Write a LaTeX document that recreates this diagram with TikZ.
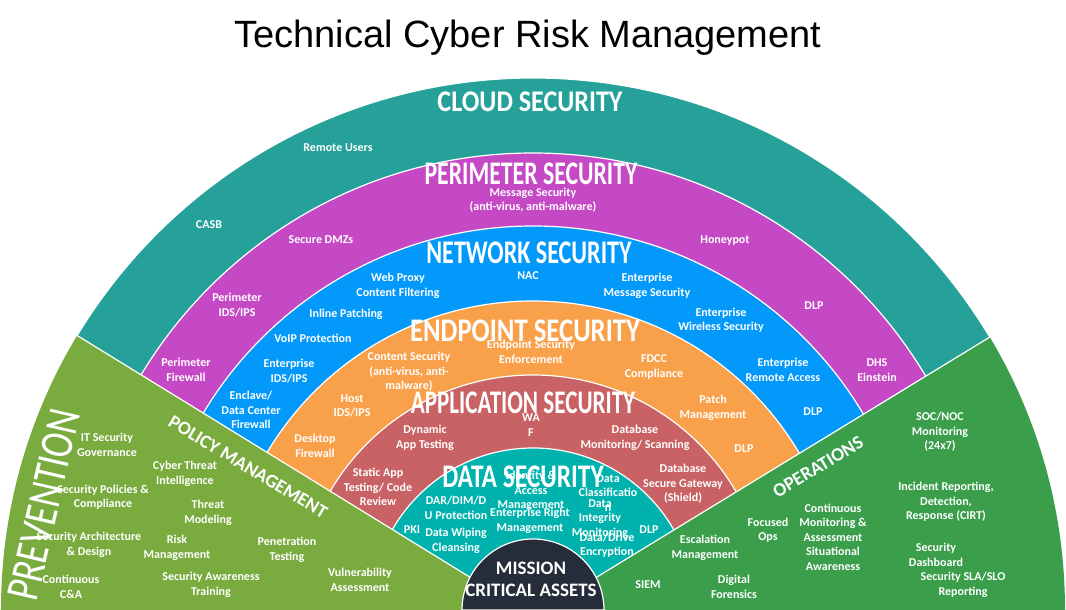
\documentclass[tikz,border=0pt]{standalone}
\usepackage{fontspec}
\usepackage{graphicx}
\usepackage{tikz}
\setmainfont{Carlito}
\newfontfamily\titlefont{Liberation Sans}
\definecolor{cloudc}{HTML}{26A199}
\definecolor{perimc}{HTML}{C549C4}
\definecolor{netc}{HTML}{0399FA}
\definecolor{endc}{HTML}{F8A04A}
\definecolor{appc}{HTML}{C96264}
\definecolor{datac}{HTML}{00B2AD}
\definecolor{missc}{HTML}{252C3A}
\definecolor{prevc}{HTML}{7AAB3F}
\definecolor{opsc}{HTML}{3A9E4B}

\begin{document}
\begin{tikzpicture}[x=1pt, y=1pt,
		ring/.style={draw=white, line width=1.2pt},
		item node/.style={text=white, align=center, inner sep=0pt, font=\bfseries\fontsize{12}{14.5}\selectfont},
		head node/.style={text=white, inner sep=0pt, font=\bfseries\fontsize{33}{33}\selectfont},
		side node/.style={text=white, inner sep=0pt, font=\bfseries\fontsize{19}{19}\selectfont}]
	\useasboundingbox (-533,0) rectangle (533,610);
	
	% rings
	\fill[cloudc, ring] (-532,0) arc (180:0:532) -- cycle;
	\fill[perimc, ring] (-457,0) arc (180:0:457) -- cycle;
	\fill[netc, ring] (-384,0) arc (180:0:384) -- cycle;
	\fill[endc, ring] (-309,0) arc (180:0:309) -- cycle;
	\fill[appc, ring] (-235,0) arc (180:0:235) -- cycle;
	\fill[datac, ring] (-162,0) arc (180:0:162) -- cycle;
	
	% green sectors
	\begin{scope}
		\clip (-532,0) arc (180:0:532) -- cycle;
		\fill[prevc] (0,-6) -- (148.8:720) -- (-720,430) -- (-720,-6) -- cycle;
		\fill[opsc] (0,-6) -- (31:720) -- (720,430) -- (720,-6) -- cycle;
		\draw[white, line width=1.2pt] (0,-6) -- (148.8:720);
		\draw[white, line width=1.2pt] (0,-6) -- (31:720);
	\end{scope}
	\fill[missc, ring] (-71,0) arc (180:0:71) -- cycle;
	
	\node[text=black, font=\titlefont\fontsize{38}{38}\selectfont] (title) at (-5,572) {Technical Cyber Risk Management};
	
	% cloud security
	\node[head node, font=\bfseries\fontsize{30}{30}\selectfont] (cloud) at (-3,508) {\scalebox{0.87}[1]{CLOUD SECURITY}};
	\node[item node] (c1) at (-195,462) {Remote Users};
	\node[item node] (c2) at (-324,385) {CASB};
	
	% perimeter security
	\node[head node] (perim) at (-2,436) {\scalebox{0.72}[1]{PERIMETER SECURITY}};
	\node[item node] (p1) at (0,410) {Message Security\\(anti-virus, anti-malware)};
	\node[item node] (p2) at (-212,370) {Secure DMZs};
	\node[item node] (p3) at (192,369) {Honeypot};
	\node[item node] (p4) at (-296,305) {Perimeter\\IDS/IPS};
	\node[item node] (p5) at (281,304) {DLP};
	\node[item node] (p6) at (-347,240) {Perimeter\\Firewall};
	\node[item node] (p7) at (344,240) {DHS\\Einstein};
	
	% network security
	\node[head node] (net) at (-4,357) {\scalebox{0.73}[1]{NETWORK SECURITY}};
	\node[item node] (n1) at (-5,334) {NAC};
	\node[item node] (n2) at (-135,324) {Web Proxy\\Content Filtering};
	\node[item node] (n3) at (114,324) {Enterprise\\Message Security};
	\node[item node] (n4) at (-187,296) {Inline Patching};
	\node[item node] (n5) at (188,290) {Enterprise\\Wireless Security};
	\node[item node] (n6) at (-220,272) {VoIP Protection};
	\node[item node] (n7) at (-244,239) {Enterprise\\IDS/IPS};
	\node[item node] (n8) at (250,240) {Enterprise\\Remote Access};
	\node[item node] (n9) at (-282,200) {Enclave/\\Data Center\\Firewall};
	\node[item node] (n10) at (280,198) {DLP};
	
	% endpoint security
	\node[head node] (endp) at (-8,279) {\scalebox{0.81}[1]{ENDPOINT SECURITY}};
	\node[item node] (e1) at (-2,258) {Endpoint Security\\Enforcement};
	\node[item node] (e2) at (-124,238) {Content Security\\(anti-virus, anti-\\malware)};
	\node[item node] (e3) at (121,243) {FDCC\\Compliance};
	\node[item node] (e4) at (-181,204) {Host\\IDS/IPS};
	\node[item node] (e5) at (180,202) {Patch\\Management};
	\node[item node] (e6) at (-218,164) {Desktop\\Firewall};
	\node[item node] (e7) at (211,161) {DLP};
	
	% application security
	\node[head node] (app) at (-10,207) {\scalebox{0.70}[1]{APPLICATION SECURITY}};
	\node[item node] (a1) at (-2,185) {WA\\F};
	\node[item node] (a2) at (-108,172) {Dynamic\\App Testing};
	\node[item node] (a3) at (102,172) {Database\\Monitoring/ Scanning};
	\node[item node] (a4) at (-155,123) {Static App\\Testing/ Code\\Review};
	\node[item node] (a5) at (150,126) {Database\\Secure Gateway\\(Shield)};
	
	% data security
	\node[head node] (data) at (-10,133) {\scalebox{0.77}[1]{DATA SECURITY}};
	\node[item node] (d1) at (-2,119) {Identity \&\\Access\\Management};
	\node[item node] (d2) at (-77,102) {DAR/DIM/D\\U Protection};
	\node[item node] (d3) at (75,117) {Data\\Classificatio\\n};
	\node[item node] (d4) at (-3,89) {Enterprise Right\\Management};
	\node[item node] (d5) at (67,91) {Data\\Integrity\\Monitoring};
	\node[item node] (d6) at (-121,80) {PKI};
	\node[item node] (d7) at (-77,69) {Data Wiping\\Cleansing};
	\node[item node] (d8) at (116,80) {DLP};
	\node[item node] (d9) at (74,65) {Data/Drive\\Encryption};
	
	\node[side node, align=center, font=\bfseries\fontsize{19}{22}\selectfont] (miss) at (-2,31) {MISSION\\CRITICAL ASSETS};
	
	% prevention
	\node[text=white, inner sep=0pt, rotate=77, font=\fontsize{47}{47}\selectfont] (prev) at (-489,105) {\scalebox{0.78}[1]{PREVENTION}};
	\node[side node, rotate=-31] (policy) at (-285,143) {POLICY MANAGEMENT};
	\node[item node] (v1) at (-426,165) {IT Security\\Governance};
	\node[item node] (v2) at (-348,136) {Cyber Threat\\Intelligence};
	\node[item node] (v3) at (-430,113) {Security Policies \&\\Compliance};
	\node[item node] (v4) at (-325,97) {Threat\\Modeling};
	\node[item node] (v5) at (-444,65) {Security Architecture\\\& Design};
	\node[item node] (v6) at (-356,62) {Risk\\Management};
	\node[item node] (v7) at (-246,60) {Penetration\\Testing};
	\node[item node] (v8) at (-462,23) {Continuous\\C\&A};
	\node[item node] (v9) at (-322,25) {Security Awareness\\Training};
	\node[item node] (v10) at (-173,30) {Vulnerability\\Assessment};
	
	% operations
	\node[side node, rotate=31] (ops) at (285,143) {OPERATIONS};
	\node[item node] (o1) at (407,178) {SOC/NOC\\Monitoring\\(24x7)};
	\node[item node] (o2) at (413,108) {Incident Reporting,\\Detection,\\Response (CIRT)};
	\node[item node] (o3) at (235,80) {Focused\\Ops};
	\node[item node] (o4) at (300,73) {Continuous\\Monitoring \&\\Assessment\\Situational\\Awareness};
	\node[item node] (o5) at (403,55) {Security\\Dashboard};
	\node[item node] (o6) at (430,25) {Security SLA/SLO\\Reporting};
	\node[item node] (o7) at (172,62) {Escalation\\Management};
	\node[item node] (o8) at (201,23) {Digital\\Forensics};
	\node[item node] (o9) at (115,25) {SIEM};
\end{tikzpicture}
\end{document}
